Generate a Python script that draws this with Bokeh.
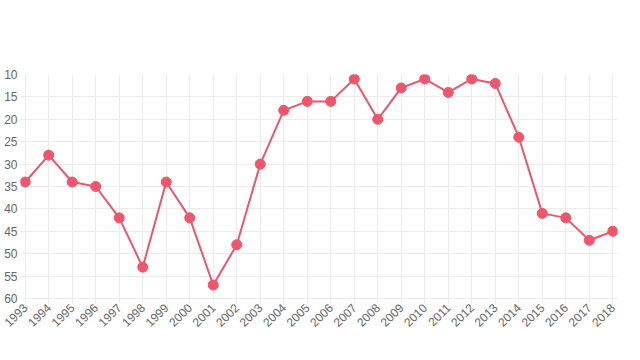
import math
from bokeh.plotting import figure
from bokeh.models import Range1d, FixedTicker
from bokeh.embed import file_html
from bokeh.resources import INLINE

years = list(range(1993, 2019))
ranks = [34, 28, 34, 35, 42, 53, 34, 42, 57, 48, 30, 18, 16, 16, 11, 20, 13, 11, 14, 11, 12, 24, 41, 42, 47, 45]
y_ticks = [10, 15, 20, 25, 30, 35, 40, 45, 50, 55, 60]

color = "#f2546b"
grid = "#ebebeb"

p = figure(width=624, height=344, output_backend="svg", toolbar_location=None,
           x_range=Range1d(1992.8, 2018.2), y_range=Range1d(60, 10),
           min_border_left=20, min_border_right=7, min_border_top=74, min_border_bottom=46)
p.outline_line_color = None
p.background_fill_color = "white"
p.border_fill_color = "white"

p.line(years, ranks, line_color=color, line_width=2)
p.scatter(years, ranks, size=10, fill_color=color, line_color=color)

p.xaxis.ticker = FixedTicker(ticks=years)
p.yaxis.ticker = FixedTicker(ticks=y_ticks)
p.xaxis.major_label_orientation = math.pi / 4
for ax in (p.xaxis, p.yaxis):
    ax.axis_line_color = grid
    ax.major_tick_line_color = grid
    ax.minor_tick_line_color = None
    ax.major_label_text_color = "#666666"
    ax.major_label_text_font = "Liberation Sans"
    ax.major_label_text_font_size = "12px"
p.yaxis.axis_line_color = None
p.yaxis.major_tick_out = 0
p.yaxis.major_tick_in = 0
p.yaxis.major_label_standoff = 3
p.xaxis.major_tick_out = 5
p.xaxis.major_tick_in = 0
p.xaxis.major_label_standoff = 2
p.xgrid.grid_line_color = grid
p.ygrid.grid_line_color = grid
p.xgrid.ticker = FixedTicker(ticks=years)
p.ygrid.ticker = FixedTicker(ticks=y_ticks)

open("out.html", "w").write(file_html(p, INLINE))
